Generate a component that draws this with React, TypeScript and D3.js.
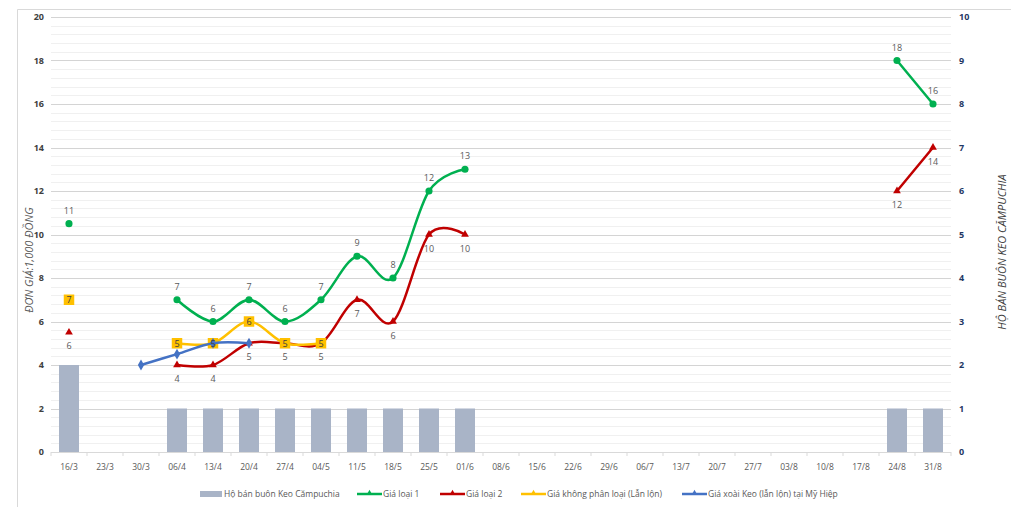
import { MutableRefObject, useEffect, useRef } from "react";
import * as d3 from "d3";

const dates = ["16/3", "23/3", "30/3", "06/4", "13/4", "20/4", "27/4", "04/5", "11/5", "18/5", "25/5", "01/6", "08/6",
    "15/6", "22/6", "29/6", "06/7", "13/7", "20/7", "27/7", "03/8", "10/8", "17/8", "24/8", "31/8"];
const N = null;
// right axis: number of Cambodian wholesale buyers
const buyers = [2, N, N, 1, 1, 1, 1, 1, 1, 1, 1, 1, N, N, N, N, N, N, N, N, N, N, N, 1, 1];
// left axis: price, 1,000 dong
const grade1 = [10.5, N, N, 7, 6, 7, 6, 7, 9, 8, 12, 13, N, N, N, N, N, N, N, N, N, N, N, 18, 16];
const grade2 = [5.5, N, N, 4, 4, 5, 5, 5, 7, 6, 10, 10, N, N, N, N, N, N, N, N, N, N, N, 12, 14];
const mixed = [7, N, N, 5, 5, 6, 5, 5, N, N, N, N, N, N, N, N, N, N, N, N, N, N, N, N, N];
const myHiep = [N, N, 4, 4.5, 5, 5, N, N, N, N, N, N, N, N, N, N, N, N, N, N, N, N, N, N, N];
const leftTicks = [0, 2, 4, 6, 8, 10, 12, 14, 16, 18, 20];
const rightTicks = [0, 1, 2, 3, 4, 5, 6, 7, 8, 9, 10];

const FONT = "'Open Sans', 'Noto Sans', sans-serif";
const GRAY = "#595959";

function App() {
    const svgRef = useRef<SVGSVGElement>() as MutableRefObject<SVGSVGElement | null>;
    useEffect(() => {
        const svg = svgRef.current!;
        draw(svg);
        return () => { svg.innerHTML = ''; };
    }, []);
    return (
        <svg ref={svgRef} width={1011} height={507}
            style={{ position: "absolute", left: 0, top: 0, background: "#fff" }}></svg>
    );
}

function draw(el: SVGSVGElement) {
    const root = d3.select(el).style("font-family", FONT);
    const x = d3.scaleBand<string>().domain(dates).range([51, 951]);
    const cx = (d: string) => x(d)! + x.bandwidth() / 2;
    const yL = d3.scaleLinear().domain([0, 20]).range([452, 17]);
    const yR = d3.scaleLinear().domain([0, 10]).range([452, 17]);

    // frame (cropped chart area)
    root.append("path").attr("d", "M17.5,507V9.5H1011").attr("fill", "none").attr("stroke", "#d9d9d9");

    // grid
    const minor = d3.range(0, 20.01, 0.4).filter(v => Math.abs(v / 2 - Math.round(v / 2)) > 0.01);
    root.append("g").selectAll("line").data(minor).join("line")
        .attr("x1", 51).attr("x2", 951).attr("y1", d => Math.round(yL(d)) + 0.5).attr("y2", d => Math.round(yL(d)) + 0.5)
        .attr("stroke", "#f0f0f0");
    root.append("g").selectAll("line").data(leftTicks.slice(1)).join("line")
        .attr("x1", 51).attr("x2", 951).attr("y1", d => Math.round(yL(d)) + 0.5).attr("y2", d => Math.round(yL(d)) + 0.5)
        .attr("stroke", "#d4d4d4");

    // x axis
    root.append("line").attr("x1", 51).attr("x2", 951).attr("y1", 452.5).attr("y2", 452.5).attr("stroke", "#d9d9d9");
    root.append("g").selectAll("line").data(d3.range(0, dates.length + 1)).join("line")
        .attr("x1", i => 51 + i * x.step()).attr("x2", i => 51 + i * x.step())
        .attr("y1", 452).attr("y2", 456).attr("stroke", "#d9d9d9");
    root.append("g").selectAll("text").data(dates).join("text")
        .attr("x", cx).attr("y", 470).attr("text-anchor", "middle")
        .attr("font-size", 8.5).attr("fill", GRAY).text(d => d);

    // y axes labels
    root.append("g").selectAll("text").data(leftTicks).join("text")
        .attr("x", 44).attr("y", d => yL(d) + 3).attr("text-anchor", "end")
        .attr("font-size", 9).attr("font-weight", "bold").attr("fill", "#404040").text(d => d);
    root.append("g").selectAll("text").data(rightTicks).join("text")
        .attr("x", 959).attr("y", d => yR(d) + 3).attr("text-anchor", "start")
        .attr("font-size", 9).attr("font-weight", "bold").attr("fill", "#1f3864").text(d => d);

    root.append("text").attr("transform", "translate(33,260) rotate(-90)")
        .attr("text-anchor", "middle").attr("font-size", 11).attr("font-style", "italic").attr("fill", GRAY)
        .text("ĐƠN GIÁ:1,000 ĐỒNG");
    root.append("text").attr("transform", "translate(1006,252) rotate(-90)")
        .attr("text-anchor", "middle").attr("font-size", 11).attr("font-style", "italic").attr("fill", "#404040")
        .text("HỘ BÁN BUÔN KEO CĂMPUCHIA");

    // bars
    const bw = 20;
    root.append("g").selectAll("rect").data(dates.map((d, i) => ({ d, v: buyers[i] })).filter(p => p.v != null))
        .join("rect")
        .attr("x", p => cx(p.d) - bw / 2).attr("width", bw)
        .attr("y", p => yR(p.v!)).attr("height", p => yR(0) - yR(p.v!))
        .attr("fill", "#a9b4c7");

    type Pt = { d: string; v: number | null };
    const series = [
        { name: "g1", vals: grade1, color: "#00b050", marker: "circle", label: "above" },
        { name: "g2", vals: grade2, color: "#c00000", marker: "triangle", label: "below" },
        { name: "mx", vals: mixed, color: "#ffc000", marker: "square", label: "center" },
        { name: "mh", vals: myHiep, color: "#4472c4", marker: "diamond", label: "none" },
    ];
    const line = d3.line<Pt>().defined(p => p.v != null)
        .x(p => cx(p.d)).y(p => yL(p.v!)).curve(d3.curveCardinal.tension(0));

    const symbolOf = (m: string) => m === "circle" ? d3.symbol(d3.symbolCircle, 40)
        : m === "triangle" ? d3.symbol(d3.symbolTriangle, 26)
        : m === "diamond" ? d3.symbol(d3.symbolDiamond, 34)
        : d3.symbol(d3.symbolSquare, 110);

    series.forEach(s => {
        const pts: Pt[] = dates.map((d, i) => ({ d, v: s.vals[i] }));
        const g = root.append("g");
        g.append("path").attr("d", line(pts)).attr("fill", "none")
            .attr("stroke", s.color).attr("stroke-width", 2.5).attr("stroke-linejoin", "round");
        g.selectAll("path.m").data(pts.filter(p => p.v != null)).join("path").attr("class", "m")
            .attr("transform", p => `translate(${cx(p.d)},${yL(p.v!)})`)
            .attr("d", symbolOf(s.marker)()).attr("fill", s.color);
    });

    // data labels on top
    series.forEach(s => {
        if (s.label === "none") return;
        const pts = dates.map((d, i) => ({ d, v: s.vals[i] })).filter(p => p.v != null);
        const dy = s.label === "above" ? -10 : s.label === "below" ? 17 : 3.5;
        root.append("g").selectAll("text").data(pts).join("text")
            .attr("x", p => cx(p.d)).attr("y", p => yL(p.v!) + dy).attr("text-anchor", "middle")
            .attr("font-size", 9).attr("fill", s.label === "center" ? "#404040" : GRAY)
            .text(p => Math.round(p.v!));
    });

    // legend
    const legend = [
        { text: "Hộ bán buôn Keo Cămpuchia", color: "#a9b4c7", x: 200, kind: "bar" },
        { text: "Giá loại 1", color: "#00b050", x: 357, kind: "line" },
        { text: "Giá loại 2", color: "#c00000", x: 440, kind: "line" },
        { text: "Giá không phân loại (Lẫn lộn)", color: "#ffc000", x: 521, kind: "line" },
        { text: "Giá xoài Keo (lẫn lộn) tại Mỹ Hiệp", color: "#4472c4", x: 682, kind: "line" },
    ];
    const lg = root.append("g").attr("transform", "translate(0,494)");
    legend.forEach(l => {
        if (l.kind === "bar") {
            lg.append("rect").attr("x", l.x).attr("y", -3).attr("width", 22).attr("height", 6).attr("fill", l.color);
        } else {
            lg.append("line").attr("x1", l.x).attr("x2", l.x + 25).attr("y1", 0).attr("y2", 0)
                .attr("stroke", l.color).attr("stroke-width", 2.5);
            lg.append("path").attr("transform", `translate(${l.x + 12.5},-1)`)
                .attr("d", d3.symbol(d3.symbolTriangle, 14)()).attr("fill", l.color);
        }
        lg.append("text").attr("x", l.x + (l.kind === "bar" ? 24 : 26)).attr("y", 3)
            .attr("font-size", 8.5).attr("fill", GRAY).text(l.text);
    });
}

export default App;
